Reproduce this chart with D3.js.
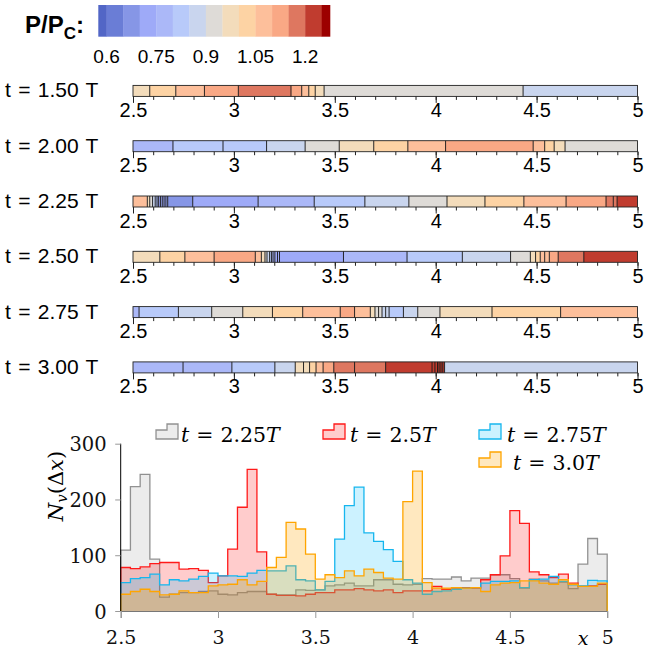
<!DOCTYPE html>
<html><head><meta charset="utf-8">
<script src="https://cdnjs.cloudflare.com/ajax/libs/d3/7.8.5/d3.min.js"></script>
<style>body{margin:0;background:#fff;} svg{display:block;}</style>
</head><body>
<svg id="chart" width="659" height="655"></svg>
<script>
// ---------------- DATA ----------------
const cbThresholds = [0.6,0.65,0.7,0.75,0.8,0.85,0.9,0.95,1.0,1.05,1.1,1.15,1.2,1.25];
const cbColors = ["#5266c6","#6a7dd6","#8696e6","#9eaaf8","#abb8f8","#b8cafa","#c9d5ee","#dedbd7","#f3dcbb","#fdd3a4","#fdbf9b","#f9a885","#de7760","#c03c2f","#9c0000"];
const cbDomain = [0.575, 1.275];
const cbTicks = [0.6, 0.75, 0.9, 1.05, 1.2];
const cbTickLabels = ["0.6","0.75","0.9","1.05","1.2"];

const stripTimes = ["1.50","2.00","2.25","2.50","2.75","3.00"];
const stripBreaks = [
  [2.583,2.712,2.854,3.022,3.283,3.336,3.371,3.403,3.447,4.433],
  [2.698,2.946,3.162,3.353,3.522,3.693,3.862,4.049,4.483,4.540,4.587,4.641],
  [2.571,2.583,2.597,2.610,2.619,2.627,2.636,2.645,2.654,2.663,2.672,2.796,3.120,3.398,3.649,3.867,4.056,4.244,4.437,4.646,4.844,4.880,4.899],
  [2.633,2.757,2.902,3.106,3.136,3.154,3.164,3.177,3.186,3.194,3.203,3.216,3.226,3.543,3.858,4.132,4.371,4.469,4.495,4.518,4.540,4.563,4.607,4.734],
  [2.530,2.725,2.890,3.044,3.191,3.341,3.527,3.598,3.676,3.699,3.717,3.734,3.752,3.769,3.840,3.911,4.021,4.279,4.619],
  [2.748,2.990,3.203,3.304,3.345,3.375,3.407,3.442,3.495,3.598,3.752,3.982,3.996,4.009,4.017,4.026,4.035,4.044]
];
const stripValues = [
  [0.975,1.025,1.075,1.125,1.175,1.125,1.075,1.025,0.975,0.925,0.875],
  [0.775,0.825,0.84,0.875,0.925,0.975,1.025,1.075,1.125,1.075,1.025,0.975,0.925],
  [1.075,0.975,0.925,0.875,0.825,0.775,0.725,0.725,0.725,0.725,0.725,0.675,0.725,0.775,0.825,0.875,0.925,0.975,1.025,1.075,1.125,1.175,1.175,1.225],
  [0.975,1.025,1.075,1.125,1.075,0.975,0.925,0.875,0.825,0.775,0.775,0.725,0.725,0.725,0.775,0.825,0.875,0.925,0.975,1.025,1.075,1.075,1.125,1.175,1.225],
  [0.775,0.825,0.875,0.925,0.975,1.025,1.075,1.125,1.075,0.975,0.925,0.925,0.875,0.875,0.825,0.875,0.925,0.975,1.025,1.075],
  [0.775,0.775,0.825,0.875,0.975,0.975,1.025,1.075,1.125,1.175,1.175,1.225,1.225,1.225,1.225,1.225,1.225,1.225,0.875]
];
const stripDomain = [2.5, 5];
const stripTicks = [2.5, 3, 3.5, 4, 4.5, 5];
const stripTickLabels = ["2.5","3","3.5","4","4.5","5"];

const binStart = 2.5, binWidth = 0.05;
const histNames = ["2.25","2.5","2.75","3.0"];
const histGray = [109,223,245,93,25,30,33,33,35,36,30,29,33,35,35,30,29,29,38,37,38,45,47,50,45,45,56,56,48,47,48,58,57,57,61,54,59,59,65,65,58,41,57,54,50,52,40,84,130,102];
const histRed = [78,76,79,85,87,87,75,76,73,51,63,111,186,254,106,30,28,28,27,30,33,33,38,38,40,38,36,38,33,36,36,36,44,39,41,42,41,56,65,99,180,157,70,65,60,66,50,44,45,48];
const histCyan = [51,58,60,66,47,56,54,57,62,68,63,63,62,68,73,72,72,81,56,54,38,53,129,189,222,140,125,110,89,56,50,30,35,36,39,41,42,50,53,53,54,42,56,57,62,53,47,45,55,54];
const histOrange = [30,35,39,35,29,30,36,33,33,45,47,48,56,47,53,78,96,159,147,102,57,65,60,72,63,75,69,59,57,196,251,51,41,41,42,41,42,35,47,50,51,54,54,50,48,56,48,44,44,50];
const histYTicks = [0,100,200,300];
const histXTicks = [2.5,3,3.5,4,4.5,5];
const histXTickLabels = ["2.5","3","3.5","4","4.5","5"];

// ---------------- DRAW ----------------
const svg = d3.select("#chart");
const sans = "Liberation Sans, Arial, sans-serif";
const serif = "DejaVu Serif, serif";

const colorScale = d3.scaleThreshold().domain(cbThresholds).range(cbColors);

// colour bar
const cbX = d3.scaleLinear().domain(cbDomain).range([98.3, 330]);
const cbEdges = [cbDomain[0], ...cbThresholds, cbDomain[1]];
const cbG = svg.append("g");
cbG.selectAll("rect").data(cbColors).join("rect")
  .attr("x", (d,i) => cbX(cbEdges[i]))
  .attr("width", (d,i) => cbX(cbEdges[i+1]) - cbX(cbEdges[i]) + 0.3)
  .attr("y", 5).attr("height", 31.7)
  .attr("fill", d => d);
cbG.selectAll("text.tick").data(cbTicks).join("text")
  .attr("class","tick")
  .attr("x", d => cbX(d)).attr("y", 63)
  .attr("text-anchor","middle")
  .attr("font-family", sans).attr("font-size", 19)
  .text((d,i) => cbTickLabels[i]);
const pl = svg.append("text").attr("x", 25).attr("y", 33)
  .attr("font-family", sans).attr("font-weight","bold").attr("font-size", 24);
pl.append("tspan").text("P/P");
pl.append("tspan").attr("font-size", 17).attr("dy", 6).text("C");
pl.append("tspan").attr("dy", -6).text(":");

// strips
const sx = d3.scaleLinear().domain(stripDomain).range([133, 637.5]);
const stripTop0 = 85.4, stripStep = 55.3, stripH = 11;
stripTimes.forEach((t, k) => {
  const y0 = stripTop0 + k * stripStep;
  const g = svg.append("g");
  const edges = [stripDomain[0], ...stripBreaks[k], stripDomain[1]];
  g.selectAll("rect").data(stripValues[k]).join("rect")
    .attr("x", (d,i) => sx(edges[i]))
    .attr("width", (d,i) => sx(edges[i+1]) - sx(edges[i]))
    .attr("y", y0).attr("height", stripH)
    .attr("fill", d => colorScale(d));
  g.selectAll("line.brk").data(stripBreaks[k]).join("line")
    .attr("class","brk")
    .attr("x1", d => sx(d)).attr("x2", d => sx(d))
    .attr("y1", y0).attr("y2", y0 + stripH)
    .attr("stroke", "#111").attr("stroke-width", 0.9);
  g.append("rect").attr("x", sx(stripDomain[0])).attr("y", y0)
    .attr("width", sx(stripDomain[1]) - sx(stripDomain[0])).attr("height", stripH)
    .attr("fill","none").attr("stroke","#222").attr("stroke-width", 0.9);
  const ax = d3.axisBottom(sx).tickValues(d3.range(25, 51).map(v => v/10)).tickSize(3.5).tickFormat("");
  const axg = g.append("g").attr("transform", `translate(0,${y0 + stripH})`).call(ax);
  axg.select(".domain").remove();
  axg.selectAll("line").attr("stroke","#222");
  const ax2 = d3.axisBottom(sx).tickValues(stripTicks).tickSize(6.5)
    .tickFormat((d,i) => stripTickLabels[i]);
  const axg2 = g.append("g").attr("transform", `translate(0,${y0 + stripH})`).call(ax2);
  axg2.select(".domain").remove();
  axg2.selectAll("line").attr("stroke","#222");
  axg2.selectAll("text").attr("font-family", sans).attr("font-size", 20)
    .attr("fill","#000").attr("dy", null).attr("y", 20.5);
  svg.append("text").attr("x", 5).attr("y", y0 + 12)
    .attr("font-family", sans).attr("font-size", 21).attr("word-spacing", 1.5)
    .text(`t = ${t} T`);
});

// histogram
const hx = d3.scaleLinear().domain([2.5, 5]).range([120.7, 607.2]);
const hy = d3.scaleLinear().domain([0, 300]).range([611, 443.7]);
const series = [
  {vals: histGray,   stroke: "rgba(120,120,120,0.8)", fill: "rgba(128,128,128,0.15)"},
  {vals: histRed,    stroke: "#ff1a1a", fill: "rgba(255,0,0,0.2)"},
  {vals: histCyan,   stroke: "#16b6ee", fill: "rgba(0,190,255,0.2)"},
  {vals: histOrange, stroke: "#ffa500", fill: "rgba(255,165,0,0.25)"}
];
const hG = svg.append("g");
const stepLine = d3.line().x(d => hx(d[0])).y(d => hy(d[1])).curve(d3.curveStepAfter);
series.forEach(s => {
  const n = s.vals.length;
  const pts = [[binStart, 0]];
  s.vals.forEach((v,i) => pts.push([binStart + i*binWidth, v]));
  pts.push([binStart + n*binWidth, s.vals[n-1]]);
  pts.push([binStart + n*binWidth, 0]);
  hG.append("path").attr("d", stepLine(pts) + "Z").attr("fill", s.fill).attr("stroke","none");
  hG.append("path").attr("d", stepLine(pts)).attr("fill","none")
    .attr("stroke", s.stroke).attr("stroke-width", 1.3);
});
const xAx = d3.axisBottom(hx).tickValues(histXTicks).tickSize(7).tickFormat((d,i) => histXTickLabels[i]);
const xg = svg.append("g").attr("transform","translate(0,611)").call(xAx);
xg.select(".domain").attr("stroke","#777");
xg.selectAll("line").attr("stroke","#999");
xg.selectAll("text").attr("font-family", serif).attr("font-size", 19).attr("fill","#111").attr("dy", null).attr("y", 33);
const yAx = d3.axisLeft(hy).tickValues(histYTicks).tickSize(5.5).tickFormat(d3.format("d"));
const yg = svg.append("g").attr("transform","translate(120.7,0)").call(yAx);
yg.select(".domain").attr("stroke","#000").attr("d", `M0,${hy(300)}V${hy(0)}`);
yg.selectAll("line").attr("stroke","#999");
yg.selectAll("text").attr("font-family", serif).attr("font-size", 19.5).attr("fill","#111").attr("x", -14).attr("dy","0.36em");

svg.append("text").attr("x", 583).attr("y", 645).attr("font-family", serif)
  .attr("font-style","italic").attr("font-size", 19).attr("text-anchor","middle").text("x");
const yl = svg.append("text").attr("transform","translate(63,486) rotate(-90)")
  .attr("text-anchor","middle").attr("font-family", serif).attr("font-size", 21);
yl.append("tspan").attr("font-style","italic").text("N");
yl.append("tspan").attr("font-style","italic").attr("font-size",15).attr("dy",4).text("v");
yl.append("tspan").attr("dy",-4).text("(Δ");
yl.append("tspan").attr("font-style","italic").text("x");
yl.append("tspan").text(")");

// legend
const legPos = [[156,439,181,442],[323,439,350,442],[479,439,507,442],[479,467,513,470]];
series.forEach((s, i) => {
  const [ix, iy, tx, ty] = legPos[i];
  svg.append("path")
    .attr("d", `M${ix},${iy}V${iy-9}H${ix+11}V${iy-15}H${ix+22}V${iy}Z`)
    .attr("fill", s.fill).attr("stroke", s.stroke).attr("stroke-width", 1.3);
  const t = svg.append("text").attr("x", tx).attr("y", ty)
    .attr("font-family", serif).attr("font-size", 20.5);
  t.append("tspan").attr("font-style","italic").text("t");
  t.append("tspan").attr("dx", 7).text("=");
  t.append("tspan").attr("dx", 7).text(histNames[i]);
  t.append("tspan").attr("font-style","italic").text("T");
});
</script>
</body></html>
